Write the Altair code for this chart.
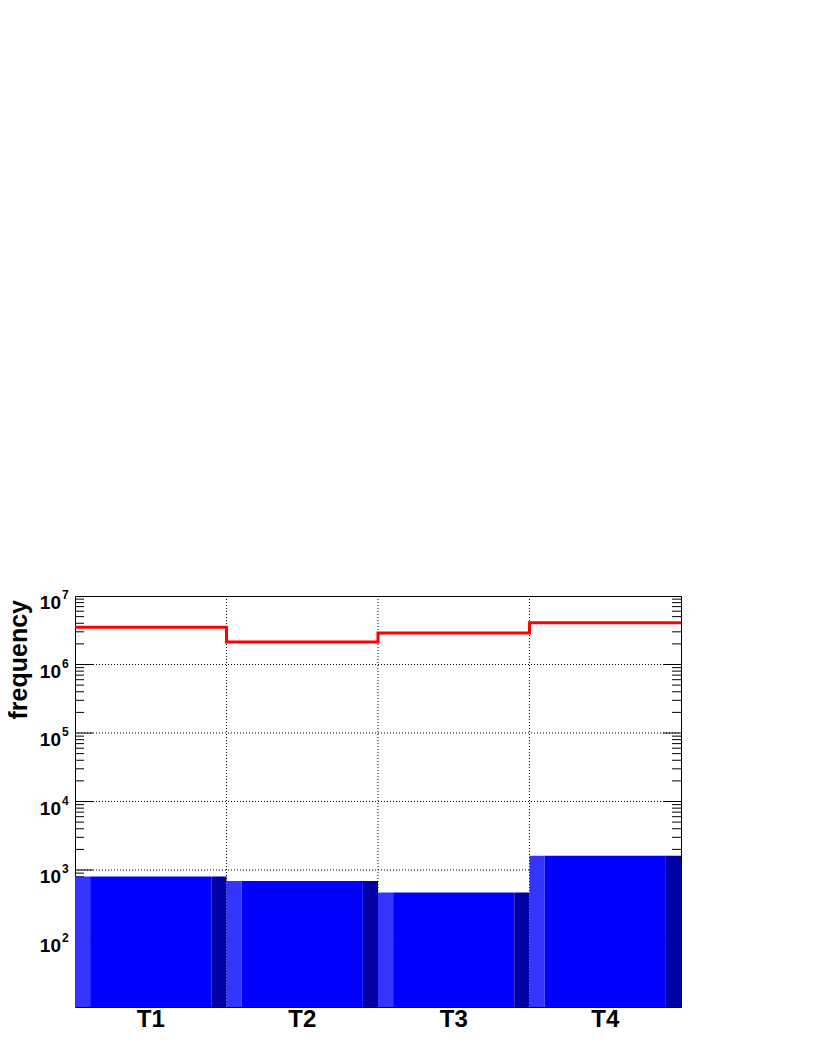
import altair as alt
import pandas as pd

# ---- data ----
categories = ["T1", "T2", "T3", "T4"]
bar_values = [805, 690, 471, 1618]
line_values = [3.49e6, 2.13e6, 2.88e6, 4.08e6]
decade_values = [1e2, 1e3, 1e4, 1e5, 1e6, 1e7]
decade_exponents = ["2", "3", "4", "5", "6", "7"]
y_title = "frequency"

# ---- layout / style ----
W, H = 606, 411
YMIN, YMAX = 10, 1e7
FONT = "Liberation Sans"
STRIP = 0.1

xs = alt.Scale(domain=[0, 4], nice=False, zero=False)
ys = alt.Scale(type="log", domain=[YMIN, YMAX], nice=False, clamp=True)

bins = pd.DataFrame({"cat": categories, "start": list(range(len(categories))), "value": bar_values})
bins["end"] = bins["start"] + 1
bins["center"] = bins["start"] + 0.5

parts = []
for _, r in bins.iterrows():
    parts.append({"part": "light", "x0": r["start"], "x1": r["start"] + STRIP, "value": r["value"]})
    parts.append({"part": "main", "x0": r["start"] + STRIP, "x1": r["end"] - STRIP, "value": r["value"]})
    parts.append({"part": "dark", "x0": r["end"] - STRIP, "x1": r["end"], "value": r["value"]})
parts_df = pd.DataFrame(parts)

line_df = pd.DataFrame({"edge": list(range(len(categories) + 1)),
                        "value": line_values + [line_values[-1]]})

major = pd.DataFrame({"v": decade_values[:-1]})
minor = pd.DataFrame({"v": [k * 10 ** d for d in range(1, 7) for k in range(2, 10)]})
edges = pd.DataFrame({"e": [1, 2, 3]})
labels_df = pd.DataFrame({"v": decade_values, "exp": decade_exponents})
title_df = pd.DataFrame({"t": [y_title]})

Y = lambda f: alt.Y(f, type="quantitative", scale=ys, axis=None)
X = lambda f: alt.X(f, type="quantitative", scale=xs, axis=None)

hgrid = alt.Chart(major).mark_rule(color="black", strokeWidth=1, strokeDash=[1, 2]).encode(
    y=Y("v"), x=alt.value(0), x2=alt.value(W))
vgrid = alt.Chart(edges).mark_rule(color="black", strokeWidth=1, strokeDash=[1, 2]).encode(
    x=X("e"), y=alt.value(0), y2=alt.value(H))

def ticks(df, length):
    l = alt.Chart(df).mark_rule(color="black", strokeWidth=1).encode(
        y=Y("v"), x=alt.value(0), x2=alt.value(length))
    r = alt.Chart(df).mark_rule(color="black", strokeWidth=1).encode(
        y=Y("v"), x=alt.value(W - length), x2=alt.value(W))
    return [l, r]

bars = alt.Chart(parts_df).mark_rect().encode(
    x=X("x0"), x2="x1",
    y=Y("value"), y2=alt.datum(YMIN),
    color=alt.Color("part:N", scale=alt.Scale(domain=["light", "main", "dark"],
                                              range=["#3434ff", "#0000ff", "#0000a3"]), legend=None),
)

line = alt.Chart(line_df).mark_line(interpolate="step-after", color="#ff0000", strokeWidth=3).encode(
    x=X("edge"), y=Y("value"))

ten = alt.Chart(labels_df).mark_text(font=FONT, fontWeight="bold", fontSize=19, align="right",
                                     baseline="alphabetic", dy=13, color="black").encode(
    y=Y("v"), x=alt.value(-14), text=alt.value("10"))
exp = alt.Chart(labels_df).mark_text(font=FONT, fontWeight="bold", fontSize=12, align="left",
                                     baseline="alphabetic", dy=3, color="black").encode(
    y=Y("v"), x=alt.value(-13), text="exp:N")

xlab = alt.Chart(bins).mark_text(font=FONT, fontWeight="bold", fontSize=24, align="center",
                                 baseline="alphabetic", color="black").encode(
    x=X("center"), y=alt.value(H + 20), text="cat:N")

title = alt.Chart(title_df).mark_text(font=FONT, fontWeight="bold", fontSize=25, align="right",
                                      baseline="alphabetic", angle=270, color="black").encode(
    x=alt.value(-48), y=alt.value(4), text="t:N")

layers = [hgrid, vgrid] + ticks(major, 18) + ticks(minor, 9) + [bars, line, ten, exp, xlab, title]

chart = alt.layer(*layers).properties(
    width=W, height=H,
    padding={"left": 67, "top": 588, "right": 20, "bottom": 40},
    autosize=alt.AutoSizeParams(type="none"),
).configure_view(stroke="black", strokeWidth=1)

chart.save("out.html", embed_options={"renderer": "svg", "actions": False})
